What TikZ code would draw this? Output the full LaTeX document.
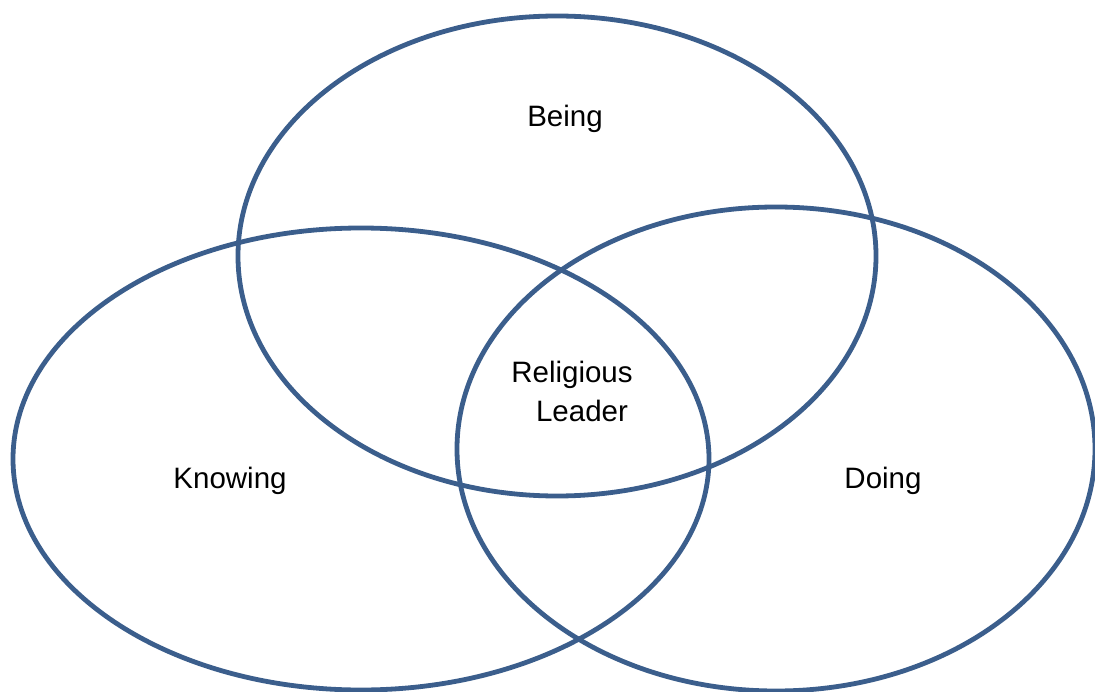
\documentclass[tikz,border=0pt]{standalone}
\usepackage{fontspec}
\setmainfont{Liberation Sans}
\definecolor{vennblue}{RGB}{59,94,140}
\begin{document}
\begin{tikzpicture}[x=1pt,y=-1pt,
  ring/.style={draw=vennblue,line width=4.8pt},
  lbl/.style={font=\fontsize{29.5}{34}\selectfont,inner sep=0pt,text=black}]
\useasboundingbox (0,0) rectangle (1095,692);
\draw[ring] (557,256) ellipse [x radius=319, y radius=240];
\draw[ring] (361,459) ellipse [x radius=348, y radius=231];
\draw[ring] (776,449) ellipse [x radius=319, y radius=242];
\node[lbl] (being) at (565,119) {Being};
\node[lbl] (knowing) at (230,481) {Knowing};
\node[lbl] (doing) at (883,481) {Doing};
\node[lbl] (rel) at (572,375) {Religious};
\node[lbl] (lead) at (582,411) {Leader};
\end{tikzpicture}
\end{document}
